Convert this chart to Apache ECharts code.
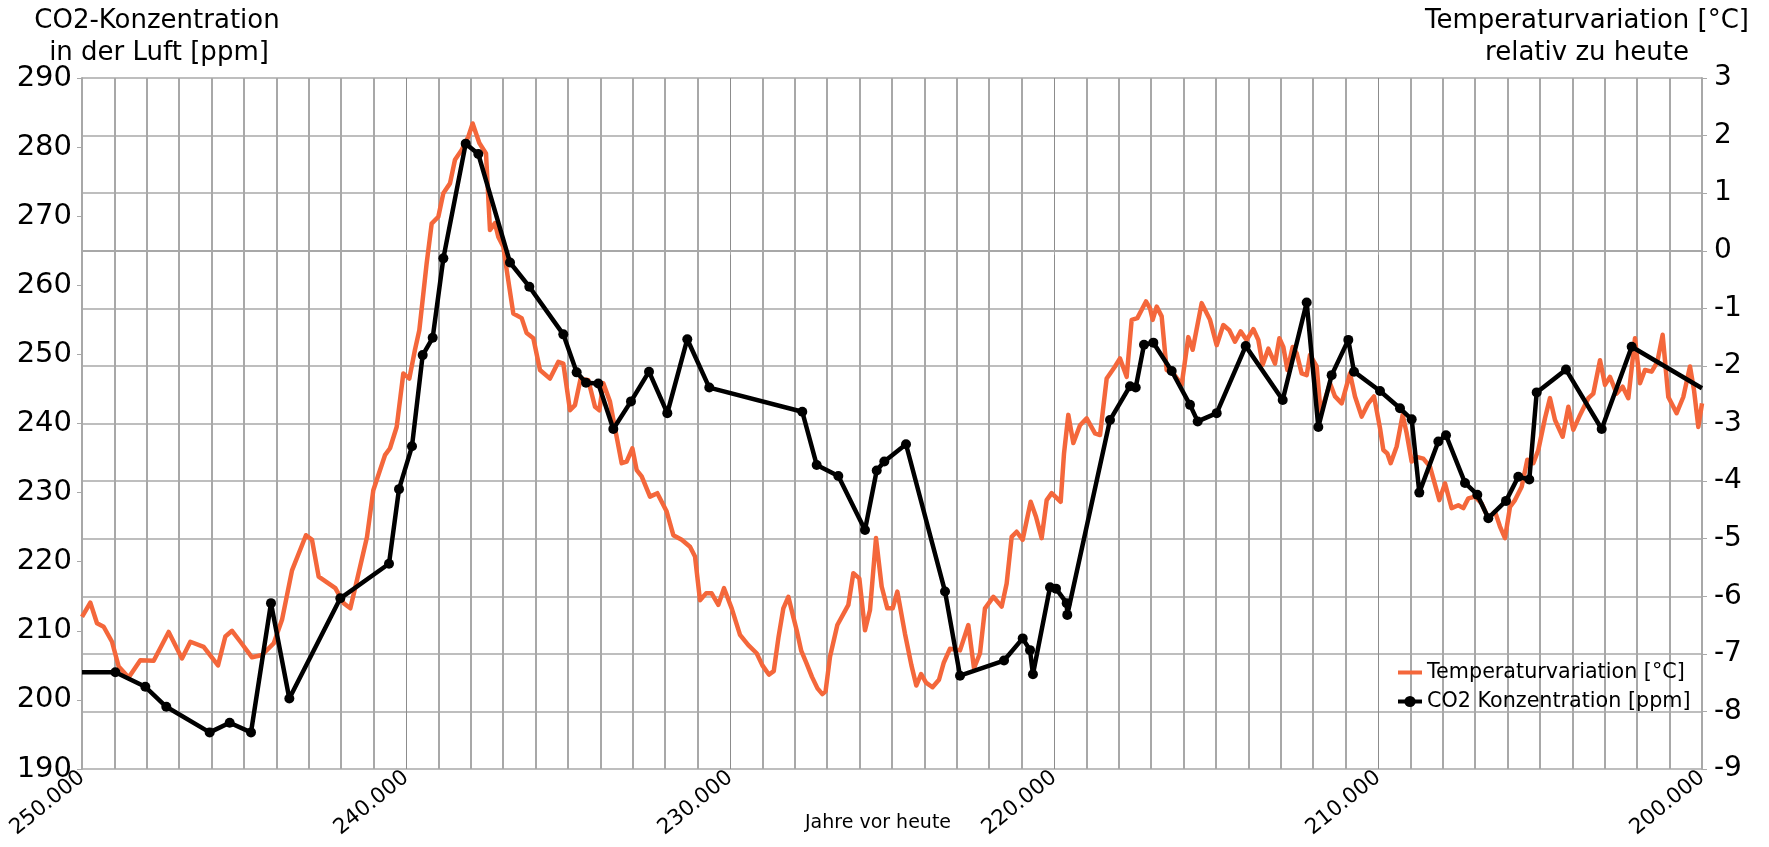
<!DOCTYPE html>
<html>
<head>
<meta charset="utf-8">
<script src="https://cdn.jsdelivr.net/npm/echarts@6/dist/echarts.min.js"></script>
<style>
  html, body { margin: 0; padding: 0; background: #ffffff; }
  #chart { width: 1769px; height: 847px; }
</style>
</head>
<body>
<div id="chart"></div>
<script>
// Years before present (x) and CO2 concentration in ppm (left axis)
const co2Years = [
  250000, 248970, 248046, 247398, 246059, 245442, 244784, 244167, 243601, 242027,
  240525, 240216, 239815, 239485, 239176, 238847, 238157, 237768, 236790, 236194,
  235145, 234733, 234444, 234065, 233602, 233056, 232500, 231935, 231318, 230639,
  227769, 227324, 226657, 225833, 225472, 225237, 224568, 223364, 222901, 221543,
  220966, 220740, 220650, 220123, 219938, 219608, 219590, 218272, 217654, 217478,
  217222, 216934, 216367, 215802, 215565, 214979, 214083, 212941, 212201, 211842,
  211430, 210916, 210741, 209938, 209321, 208960, 208725, 208138, 207901, 207315,
  206935, 206595, 206049, 205670, 205330, 205102, 204198, 203096, 202170, 200000
];
const co2Ppm = [
  204.0, 204.0, 201.9, 199.0, 195.3, 196.7, 195.3, 214.0, 200.2, 214.7,
  219.7, 230.5, 236.7, 249.9, 252.4, 263.9, 280.5, 279.0, 263.3, 259.8,
  252.9, 247.4, 245.9, 245.8, 239.2, 243.2, 247.5, 241.5, 252.2, 245.2,
  241.7, 234.0, 232.4, 224.6, 233.2, 234.5, 237.0, 215.7, 203.5, 205.7,
  208.9, 207.2, 203.7, 216.3, 216.1, 214.0, 212.3, 240.5, 245.4, 245.2,
  251.4, 251.7, 247.6, 242.7, 240.3, 241.5, 251.2, 243.4, 257.5, 239.5,
  247.0, 252.1, 247.5, 244.7, 242.2, 240.6, 230.0, 237.4, 238.3, 231.4,
  229.7, 226.3, 228.8, 232.3, 231.9, 244.5, 247.8, 239.2, 251.1, 245.1
];

// Years before present and temperature difference to today in °C (right axis)
const tempYears = [
  250000, 249743, 249537, 249331, 249074, 248868, 248560, 248200, 247788, 247325,
  246914, 246656, 246245, 245802, 245576, 245370, 245113, 244753, 244444, 244085,
  243827, 243518, 243087, 242901, 242696, 242181, 241924, 241718, 241513, 241204,
  241009, 240649, 240494, 240288, 240083, 239898, 239723, 239589, 239363, 239208,
  239002, 238848, 238642, 238488, 238282, 238077, 237943, 237737, 237531, 237408,
  237254, 237150, 236996, 236893, 236688, 236430, 236276, 236070, 235865, 235556,
  235299, 235144, 234939, 234784, 234610, 234373, 234167, 234033, 233910, 233704,
  233560, 233343, 233189, 233014, 232880, 232726, 232469, 232243, 231954, 231749,
  231491, 231234, 231080, 230926, 230740, 230566, 230360, 230185, 229948, 229691,
  229434, 229177, 229000, 228800, 228650, 228500, 228354, 228199, 228050, 227942,
  227800, 227650, 227470, 227300, 227150, 227050, 226913, 226687, 226347, 226193,
  226008, 225833, 225679, 225494, 225319, 225144, 224979, 224835, 224600, 224400,
  224250, 224100, 223950, 223750, 223550, 223400, 223210, 222901, 222644, 222469,
  222284, 222130, 221872, 221615, 221461, 221307, 221152, 220967, 220720, 220556,
  220381, 220226, 220072, 219794, 219691, 219558, 219403, 219197, 218992, 218734,
  218580, 218374, 218117, 217963, 217757, 217603, 217428, 217161, 217037, 216955,
  216831, 216677, 216523, 216317, 216060, 215854, 215720, 215442, 215185, 214979,
  214774, 214588, 214414, 214239, 214054, 213848, 213693, 213560, 213385, 213179,
  213045, 212922, 212798, 212634, 212510, 212356, 212201, 212099, 211893, 211769,
  211481, 211327, 211121, 210864, 210710, 210504, 210298, 210123, 209938, 209835,
  209712, 209609, 209424, 209239, 209115, 208961, 208807, 208601, 208395, 208107,
  207932, 207727, 207521, 207367, 207212, 207006, 206801, 206595, 206389, 206235,
  206081, 205926, 205772, 205566, 205391, 205206, 205052, 204846, 204692, 204537,
  204301, 204126, 203972, 203787, 203509, 203354, 203148, 202994, 202840, 202634,
  202449, 202274, 202068, 201914, 201760, 201554, 201379, 201215, 201040, 200783,
  200577, 200371, 200247, 200113, 200000
];
const tempDelta = [
  -6.36, -6.11, -6.47, -6.53, -6.79, -7.22, -7.41, -7.11, -7.12, -6.62,
  -7.08, -6.79, -6.88, -7.20, -6.70, -6.60, -6.79, -7.06, -7.02, -6.82,
  -6.41, -5.55, -4.94, -5.02, -5.66, -5.86, -6.12, -6.21, -5.72, -4.97,
  -4.16, -3.55, -3.43, -3.06, -2.13, -2.22, -1.72, -1.38, -0.22, 0.47,
  0.59, 1.00, 1.17, 1.58, 1.75, 1.98, 2.21, 1.87, 1.69, 0.36,
  0.48, 0.24, 0.07, -0.33, -1.09, -1.17, -1.43, -1.52, -2.07, -2.22,
  -1.93, -1.96, -2.77, -2.68, -2.22, -2.25, -2.71, -2.77, -2.30, -2.62,
  -3.05, -3.69, -3.66, -3.43, -3.81, -3.92, -4.27, -4.21, -4.53, -4.94,
  -5.02, -5.14, -5.31, -6.07, -5.95, -5.95, -6.15, -5.86, -6.21, -6.67,
  -6.85, -6.99, -7.20, -7.36, -7.30, -6.70, -6.21, -6.01, -6.35, -6.59,
  -6.95, -7.15, -7.40, -7.60, -7.70, -7.65, -7.05, -6.50, -6.15, -5.60,
  -5.69, -6.59, -6.24, -4.99, -5.83, -6.21, -6.21, -5.92, -6.65, -7.20,
  -7.55, -7.35, -7.50, -7.58, -7.45, -7.15, -6.91, -6.94, -6.50, -7.25,
  -6.99, -6.21, -6.01, -6.18, -5.78, -4.97, -4.88, -5.02, -4.36, -4.62,
  -4.99, -4.33, -4.21, -4.36, -3.52, -2.85, -3.34, -3.03, -2.91, -3.17,
  -3.20, -2.22, -2.01, -1.87, -2.19, -1.20, -1.17, -0.88, -1.00, -1.20,
  -0.97, -1.14, -2.07, -2.13, -2.33, -1.50, -1.72, -0.91, -1.20, -1.64,
  -1.29, -1.38, -1.58, -1.40, -1.55, -1.36, -1.55, -1.98, -1.70, -1.96,
  -1.52, -1.67, -2.07, -1.67, -1.78, -2.13, -2.16, -1.81, -2.01, -2.82,
  -2.30, -2.53, -2.65, -2.13, -2.53, -2.88, -2.65, -2.53, -3.08, -3.46,
  -3.52, -3.69, -3.40, -2.85, -3.17, -3.66, -3.58, -3.61, -3.75, -4.33,
  -4.04, -4.47, -4.42, -4.47, -4.30, -4.27, -4.39, -4.65, -4.53, -4.79,
  -4.99, -4.45, -4.33, -4.10, -3.63, -3.69, -3.46, -2.91, -2.56, -2.94,
  -3.23, -2.71, -3.11, -2.88, -2.56, -2.48, -1.90, -2.33, -2.19, -2.48,
  -2.36, -2.56, -1.52, -2.30, -2.07, -2.10, -1.93, -1.46, -2.54, -2.82,
  -2.54, -2.01, -2.42, -3.06, -2.65
];

const yearMin = 200000;
const yearMax = 250000;

const FONT = 'DejaVu Sans';
const GRID_GREY = '#a8a8a8';
const ORANGE = '#f4673b';

// CO2 points that sit exactly on the plot edges are only line ends, no marker
const co2Data = co2Years.map((yr, i) => {
  const item = { value: [yr, co2Ppm[i]] };
  if (yr === yearMin || yr === yearMax) item.symbol = 'none';
  return item;
});
const tempData = tempYears.map((yr, i) => [yr, tempDelta[i]]);

// Two-line axis titles above the left and right value axes
function titleText(text, x, y) {
  return {
    type: 'text',
    style: {
      text: text, x: x, y: y,
      fontFamily: FONT, fontSize: 26, fill: '#000000',
      textAlign: 'center', textVerticalAlign: 'middle'
    }
  };
}

const chart = echarts.init(document.getElementById('chart'), null, { renderer: 'canvas' });

chart.setOption({
  backgroundColor: '#ffffff',
  animation: false,
  textStyle: { fontFamily: FONT, color: '#000000' },
  grid: {
    left: 82, right: 67, top: 78, bottom: 78,
    containLabel: false,
    outerBoundsMode: 'none'
  },
  legend: {
    orient: 'vertical',
    left: 1391,
    top: 657,
    itemWidth: 24,
    itemHeight: 14,
    itemGap: 8,
    lineStyle: { width: 4 },
    textStyle: { fontFamily: FONT, fontSize: 20.7, color: '#000000' },
    data: [
      { name: 'Temperaturvariation [°C]', itemStyle: { opacity: 0 } },
      { name: 'CO2 Konzentration [ppm]' }
    ]
  },
  xAxis: {
    type: 'value',
    min: yearMin,
    max: yearMax,
    interval: 10000,
    inverse: true,
    name: 'Jahre vor heute',
    nameLocation: 'middle',
    nameGap: 45,
    nameMoveOverlap: false,
    nameTextStyle: { fontFamily: FONT, fontSize: 19, color: '#000000', padding: [0, 28, 0, 0] },
    axisLine: { show: true, lineStyle: { color: GRID_GREY, width: 2 } },
    axisTick: { show: true, length: 4, lineStyle: { color: GRID_GREY, width: 1 } },
    axisLabel: {
      rotate: 39,
      margin: 6,
      fontFamily: FONT,
      fontSize: 21.5,
      color: '#000000',
      formatter: v => (v / 1000).toFixed(0) + '.000'
    },
    splitLine: { show: true, lineStyle: { color: '#8c8c8c', width: 1 } },
    minorTick: { show: false, splitNumber: 10 },
    minorSplitLine: { show: true, lineStyle: { color: GRID_GREY, width: 2 } }
  },
  yAxis: [
    {
      type: 'value',
      min: 190,
      max: 290,
      interval: 10,
      position: 'left',
      axisLine: { show: true, lineStyle: { color: GRID_GREY, width: 2 } },
      axisTick: { show: true, length: 5, lineStyle: { color: GRID_GREY, width: 1 } },
      axisLabel: { margin: 10, fontFamily: FONT, fontSize: 29, color: '#000000' },
      splitLine: { show: false }
    },
    {
      type: 'value',
      min: -9,
      max: 3,
      interval: 1,
      position: 'right',
      axisLine: { show: true, lineStyle: { color: GRID_GREY, width: 2 } },
      axisTick: { show: true, length: 5, lineStyle: { color: GRID_GREY, width: 1 } },
      axisLabel: { margin: 12, fontFamily: FONT, fontSize: 28, color: '#000000' },
      splitLine: { show: true, lineStyle: { color: GRID_GREY, width: 1.5 } }
    }
  ],
  graphic: [
    titleText('CO2-Konzentration', 157, 21),
    titleText('in der Luft [ppm]', 159, 53),
    titleText('Temperaturvariation [°C]', 1587, 21),
    titleText('relativ zu heute', 1587, 53)
  ],
  series: [
    {
      name: 'Temperaturvariation [°C]',
      type: 'line',
      yAxisIndex: 1,
      data: tempData,
      showSymbol: false,
      symbol: 'none',
      z: 2,
      lineStyle: { color: ORANGE, width: 4.5, join: 'round' },
      itemStyle: { color: ORANGE }
    },
    {
      name: 'CO2 Konzentration [ppm]',
      type: 'line',
      yAxisIndex: 0,
      data: co2Data,
      symbol: 'circle',
      symbolSize: 10,
      z: 3,
      lineStyle: { color: '#000000', width: 4.5, join: 'round' },
      itemStyle: { color: '#000000' }
    }
  ]
});
</script>
</body>
</html>
